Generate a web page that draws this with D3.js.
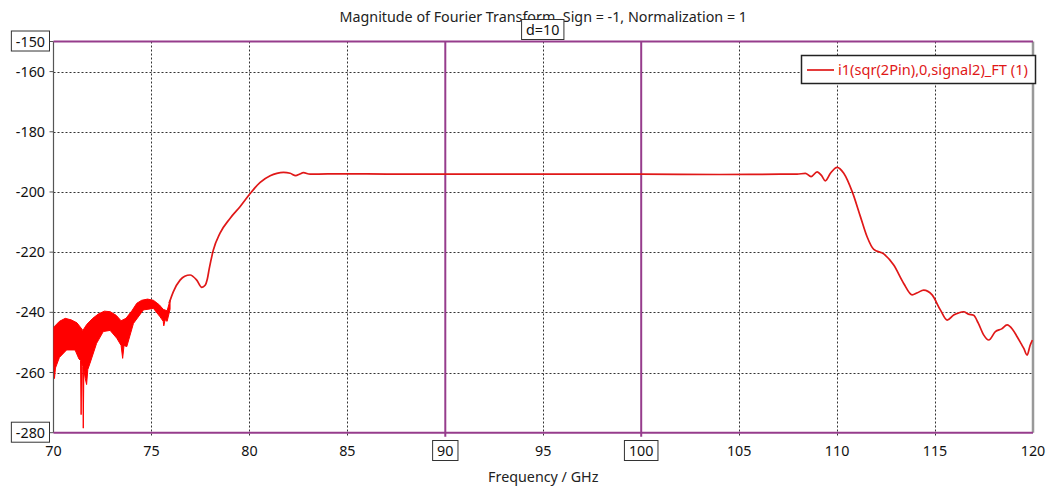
<!DOCTYPE html>
<html>
<head>
<meta charset="utf-8">
<script src="https://cdn.jsdelivr.net/npm/d3@7"></script>
<style>
  body { margin: 0; background: #fff; }
  svg { display: block; font-family: "Noto Sans", sans-serif; }
</style>
</head>
<body>
<svg id="chart" width="1048" height="486"></svg>
<script>
// noisy band below 76 GHz: upper / lower envelope
const bandUpFreq = [70.0, 70.3, 70.6, 70.9, 71.2, 71.5, 71.7, 72.0, 72.3, 72.6, 72.9, 73.2, 73.45, 73.7, 74.0, 74.25, 74.5, 74.8, 75.1, 75.4, 75.6, 75.8, 75.95]
const bandUpMag  = [-245, -243, -242, -242.5, -243.5, -246, -244, -242, -240.5, -239.6, -239.8, -241, -242.8, -242, -239.5, -237, -236, -235.6, -236, -237.5, -239, -239.5, -236]
const bandLowFreq = [70.0, 70.05, 70.1, 70.3, 70.67, 71.1, 71.3, 71.38, 71.41, 71.44, 71.49, 71.52, 71.55, 71.62, 71.69, 71.75, 71.86, 72.2, 72.54, 72.89, 73.23, 73.45, 73.53, 73.6, 73.74, 74.08, 74.59, 75.1, 75.44, 75.6, 75.63, 75.7, 75.8, 75.95]
const bandLowMag  = [-257, -262, -258.5, -255, -252.5, -252.5, -255.5, -256, -274, -257, -258, -278.5, -259, -262, -264, -259, -257, -250.3, -246.4, -246, -248.6, -251, -255.3, -251, -251.4, -243.7, -239.2, -238.7, -241.5, -243, -244.5, -242.5, -243, -239]

// main trace
const freq = [75.9, 76.12, 76.46, 76.7, 76.97, 77.31, 77.57, 77.74, 77.85, 77.95, 78.16, 78.5, 79.01, 79.52, 80.04, 80.55, 81.06, 81.4, 81.74, 82.08, 82.37, 82.55, 82.76, 83.1, 84, 86, 88, 95, 100, 104, 107.1, 107.96, 108.38, 108.67, 108.98, 109.2, 109.4, 109.66, 110.0, 110.34, 110.77, 111.19, 111.53, 111.87, 112.38, 112.89, 113.4, 113.83, 114.1, 114.42, 114.85, 115.27, 115.62, 115.95, 116.2, 116.46, 116.7, 116.97, 117.2, 117.48, 117.74, 118.08, 118.4, 118.68, 118.95, 119.19, 119.4, 119.53, 119.7, 119.85, 119.97]
const mag  = [-237, -233.1, -229.3, -228, -227.6, -229.3, -231.7, -231, -229, -225.5, -219.3, -213.7, -208.8, -204.9, -200.5, -196.8, -194.6, -193.8, -193.5, -193.8, -194.6, -194.1, -193.6, -194.1, -194.0, -194.0, -194.1, -194.1, -194.1, -194.2, -194.1, -194.1, -193.8, -194.9, -193.3, -194.5, -196.3, -193.8, -191.8, -193.8, -199.9, -208.2, -214.9, -219.1, -220.6, -224.3, -230.4, -234.2, -233.5, -232.6, -234.2, -239.2, -242.6, -240.9, -240.2, -239.8, -240.6, -241, -243.5, -247.5, -249.2, -246.4, -245.5, -244.2, -245.6, -248.1, -250.5, -252, -254.2, -251, -249.2]

const xTicks = [70, 75, 80, 85, 90, 95, 100, 105, 110, 115, 120]
const yTicks = [-150, -160, -180, -200, -220, -240, -260, -280]
const markerX = [90, 100]   // vertical markers
const markerY = [-150, -280] // horizontal markers
const markerLabel = "d=10"

const titleText = "Magnitude of Fourier Transform, Sign = -1, Normalization = 1"
const xLabel = "Frequency / GHz"
const legendText = "i1(sqr(2Pin),0,signal2)_FT (1)"

const c_purple = "#963c8c"
const c_red = "#e01818"

const svg = d3.select("#chart")

const x = d3.scaleLinear().domain([70, 120]).range([53.5, 1033])
const y = d3.scaleLinear().domain([-280, -150]).range([432.7, 41.5])
const [x0, x1] = x.range()
const [y1, y0] = y.range()

svg.append("defs").append("clipPath").attr("id", "plotclip")
  .append("rect").attr("x", x0).attr("y", y0).attr("width", x1 - x0).attr("height", y1 - y0)

// grid
const grid = svg.append("g").attr("stroke", "#333").attr("stroke-dasharray", "2,2").attr("stroke-width", 1)
grid.selectAll("line.h")
  .data(yTicks.filter(v => !markerY.includes(v)))
  .join("line")
  .attr("x1", x0).attr("x2", x1)
  .attr("y1", d => Math.round(y(d)) + 0.5).attr("y2", d => Math.round(y(d)) + 0.5)
grid.selectAll("line.v")
  .data(xTicks.filter(v => !markerX.includes(v) && v > 70 && v < 120))
  .join("line")
  .attr("y1", y0).attr("y2", y1 + 4)
  .attr("x1", d => Math.round(x(d)) + 0.5).attr("x2", d => Math.round(x(d)) + 0.5)

// axis frame
svg.append("line").attr("x1", x0).attr("x2", x0).attr("y1", y0).attr("y2", y1)
  .attr("stroke", "#555").attr("stroke-width", 1.2)
svg.append("line").attr("x1", x1).attr("x2", x1).attr("y1", y0).attr("y2", y1)
  .attr("stroke", "#999").attr("stroke-width", 2.5)

// y tick marks
svg.append("g").selectAll("line")
  .data(yTicks)
  .join("line")
  .attr("x1", x0 - 4).attr("x2", x0)
  .attr("y1", d => y(d)).attr("y2", d => y(d))
  .attr("stroke", "#555")

// markers
svg.append("g").selectAll("line")
  .data(markerY)
  .join("line")
  .attr("x1", x0).attr("x2", x1)
  .attr("y1", d => y(d)).attr("y2", d => y(d))
  .attr("stroke", c_purple).attr("stroke-width", 2)
svg.append("g").selectAll("line")
  .data(markerX)
  .join("line")
  .attr("x1", d => x(d)).attr("x2", d => x(d))
  .attr("y1", y0).attr("y2", y1 + 4)
  .attr("stroke", c_purple).attr("stroke-width", 2)

// curve
const plot = svg.append("g").attr("clip-path", "url(#plotclip)")
const bandPts = bandUpFreq.map((f, i) => [f, bandUpMag[i]])
  .concat(bandLowFreq.map((f, i) => [f, bandLowMag[i]]).reverse())
const poly = d3.line().x(d => x(d[0])).y(d => y(d[1]))
plot.append("path")
  .attr("d", poly(bandPts) + "Z")
  .attr("fill", "#ff0000").attr("stroke", "#ff0000").attr("stroke-width", 1)

const line = d3.line().x((d, i) => x(freq[i])).y(d => y(d)).curve(d3.curveMonotoneX)
plot.append("path")
  .attr("d", line(mag))
  .attr("fill", "none").attr("stroke", c_red).attr("stroke-width", 1.7)

// tick labels
const fs = 14.3
svg.append("g").selectAll("text")
  .data(yTicks)
  .join("text")
  .attr("class", "ytick")
  .attr("x", 45).attr("y", d => y(d)).attr("dy", "0.35em")
  .attr("text-anchor", "end").attr("font-size", fs).attr("fill", "#111")
  .text(d => d)
svg.append("g").selectAll("text")
  .data(xTicks)
  .join("text")
  .attr("class", "xtick")
  .attr("x", d => x(d)).attr("y", 451).attr("dy", "0.35em")
  .attr("text-anchor", "middle").attr("font-size", fs).attr("fill", "#111")
  .text(d => d)

// boxes round marker labels
function boxText(sel) {
  sel.each(function() {
    const b = this.getBBox()
    d3.select(this.parentNode).insert("rect", () => this)
      .attr("x", b.x - 4.5).attr("y", b.y - 0.5)
      .attr("width", b.width + 9).attr("height", b.height + 1)
      .attr("fill", "#fff").attr("stroke", "#333").attr("stroke-width", 1)
  })
}
svg.selectAll("text.ytick").filter(d => markerY.includes(d)).call(boxText)
svg.selectAll("text.xtick").filter(d => markerX.includes(d)).call(boxText)

// title + x label
svg.append("text")
  .attr("x", (x0 + x1) / 2).attr("y", 17).attr("dy", "0.35em")
  .attr("text-anchor", "middle").attr("font-size", fs).attr("fill", "#222")
  .text(titleText)

const dLab = svg.append("g")
dLab.append("text")
  .attr("x", (x(markerX[0]) + x(markerX[1])) / 2 - 0.5).attr("y", 30).attr("dy", "0.35em")
  .attr("text-anchor", "middle").attr("font-size", fs).attr("fill", "#111")
  .text(markerLabel)
  .call(boxText)

svg.append("text")
  .attr("x", (x0 + x1) / 2).attr("y", 477).attr("dy", "0.35em")
  .attr("text-anchor", "middle").attr("font-size", fs).attr("fill", "#222")
  .text(xLabel)

// legend
const lg = svg.append("g")
lg.append("rect").attr("x", 801.5).attr("y", 55.5).attr("width", 234).attr("height", 28)
  .attr("fill", "#fff").attr("stroke", "#222").attr("stroke-width", 1.5)
lg.append("line").attr("x1", 807).attr("x2", 834).attr("y1", 70).attr("y2", 70)
  .attr("stroke", c_red).attr("stroke-width", 1.7)
lg.append("text").attr("x", 838).attr("y", 70).attr("dy", "0.35em")
  .attr("font-size", 14.6).attr("fill", c_red)
  .text(legendText)
</script>
</body>
</html>
